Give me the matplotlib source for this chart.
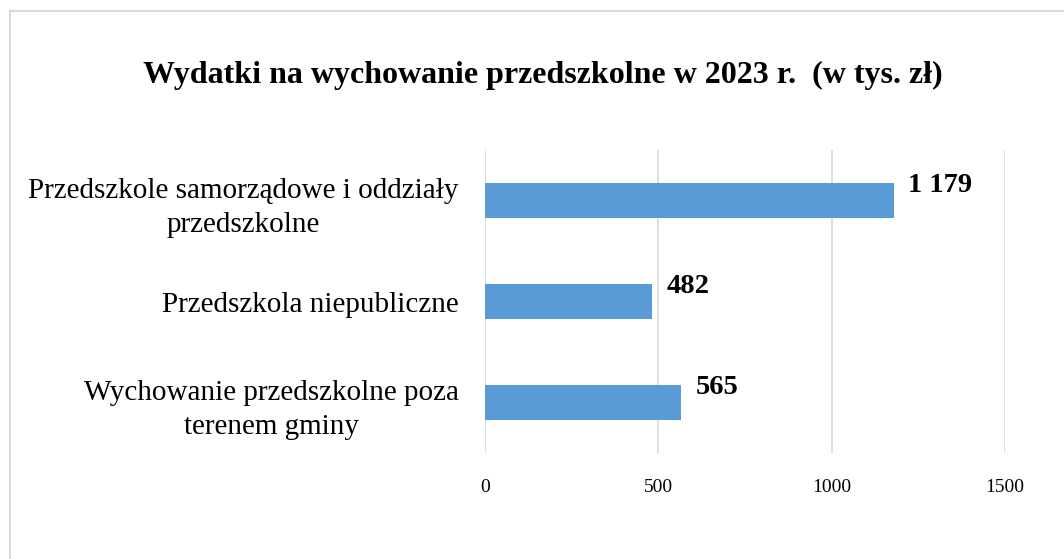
import matplotlib.pyplot as plt
from matplotlib.patches import Rectangle

kategorie = ["Przedszkole samorządowe i oddziały\nprzedszkolne",
             "Przedszkola niepubliczne",
             "Wychowanie przedszkolne poza\nterenem gminy"]
wartosci = [1179, 482, 565]
etykiety = ["1 179", "482", "565"]
xticks = [0, 500, 1000, 1500]

plt.rcParams['font.family'] = ['Liberation Serif', 'DejaVu Serif']

fig = plt.figure(figsize=(10.64, 5.59), dpi=100)
# ramka wykresu
fig.patches.append(Rectangle((10/1064, -0.01), 1.0, 1 - 11/559 + 0.01,
                             transform=fig.transFigure, fill=False,
                             edgecolor="#d9d9d9", linewidth=1.5))

ax = fig.add_axes([485/1064, 106/559, 520/1064, 303/559])
y = list(range(len(kategorie)))
ax.barh(y, wartosci, height=0.35, color="#5b9bd5", zorder=3)
for yi, v, t in zip(y, wartosci, etykiety):
    ax.text(v + 42, yi - 0.15, t, fontsize=20.5, fontweight="bold", va="center", ha="left")

ax.set_xlim(0, 1500)
ax.set_ylim(2.5, -0.5)
ax.set_xticks(xticks)
ax.set_xticklabels([str(t) for t in xticks], fontsize=14)
ax.set_yticks(y)
ax.set_yticklabels(kategorie, fontsize=21, multialignment="center", linespacing=1.45)
ax.tick_params(length=0)
ax.tick_params(axis="x", pad=19)
ax.tick_params(axis="y", pad=19)
ax.grid(axis="x", color="#d9d9d9", linewidth=1.2, zorder=0)
for s in ax.spines.values():
    s.set_visible(False)

fig.text(543/1064, 1 - 75/559, "Wydatki na wychowanie przedszkolne w 2023 r.  (w tys. zł)",
         fontsize=23, fontweight="bold", ha="center", va="center")

fig.savefig("out.png", dpi=100)
